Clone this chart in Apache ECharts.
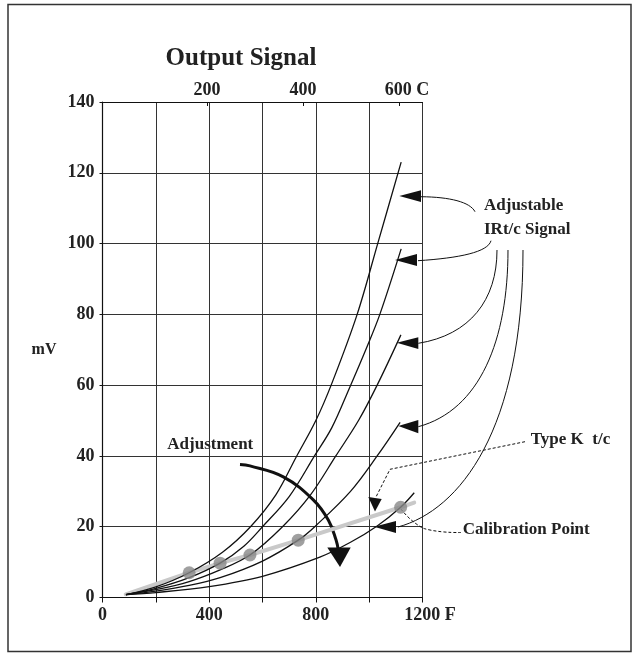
<!DOCTYPE html>
<html><head><meta charset="utf-8">
<script src="https://cdn.jsdelivr.net/npm/echarts@6/dist/echarts.min.js"></script>
<style>html,body{margin:0;padding:0;background:#fff}#c{width:634px;height:654px}</style>
</head><body><div id="c"></div>
<script>
// ---- data (temperature in F, signal in mV) ----
const curve1 = [[88,0.8],[200,3.0],[325,7.0],[450,12.8],[555,20],[650,29],[725,39.5],[800,50],[860,60.5],[955,80],[1032,100],[1120,123]];
const curve2 = [[88,0.8],[200,2.6],[325,5.6],[441,9.7],[530,14.5],[600,20],[700,28.5],[795,40],[860,48],[925,59],[990,70.5],[1040,80],[1120,98.5]];
const curve3 = [[88,0.8],[200,2.2],[325,4.5],[441,7.8],[553,12.0],[675,20],[780,29],[875,40],[960,50],[1030,60],[1119,74.2]];
const curve4 = [[88,0.8],[200,1.8],[325,3.4],[441,5.6],[600,10.3],[734,16.2],[800,20.3],[930,30],[1030,40],[1116,49.5]];
const curve5 = [[88,0.8],[200,1.4],[400,3.1],[600,6.0],[815,11.4],[930,15.6],[1030,20.2],[1118,25.5],[1169,29.6]];
const typeK = [[87,0.9],[325,7.0],[441,9.7],[553,12.0],[734,16.2],[1118,25.5],[1169,26.8]];
const calPoints = [[325,7.0],[441,9.7],[553,12.0],[734,16.2],[1118,25.5]];
const xLabelValuesF = [0,400,800,1200];
const topLabelValuesC = [200,400,600];
const titleText = 'Output Signal';

// ---- annotation geometry (data coords: F, mV) ----
const adjArrowShaft = [[515.6,37.6],[553,37.2],[678,34.1],[790.5,27.6],[846.8,21.9],[875.6,16.3],[884,13.5]];
const adjArrowHead = [[843,14.1],[930.8,14.1],[890.6,8.6]];
const leaders = [
  [[1194.4,113.24],[1303.1,113.16],[1378.1,111.74],[1396.9,109.0]],
  [[1183.1,95.16],[1340.6,95.92],[1445.6,97.62],[1456.9,100.81]],
  [[1184.25,71.82],[1378.1,74.17],[1479.4,84.06],[1479.4,98.18]],
  [[1184.25,48.26],[1415.6,52.98],[1520.6,72.75],[1520.6,98.18]],
  [[1108.1,19.92],[1340.6,24.72],[1576.9,47.33],[1576.9,98.18]]
];
const leaderHeads = [
  [[1113,113.44],[1194.4,115.1],[1194.4,111.75]],
  [[1096.9,95.36],[1179.4,97.05],[1179.4,93.66]],
  [[1103.3,71.99],[1184.25,73.52],[1184.25,70.21]],
  [[1109.25,48.46],[1184.25,50.15],[1184.25,46.39]],
  [[1018.1,20.0],[1100.6,21.61],[1100.6,18.22]]
];
const typeKLeader = [[1584.4,44.02],[1078.1,36.22],[1025.6,28.4]];
const typeKHead = [[1021.9,24.3],[996.75,28.4],[1047,27.83]];
const calLeader = [[1119.4,25.0],[1171.9,21.05],[1228.1,19.07],[1344.4,18.37]];
const labels = [
  {text:'Adjustable', at:[1430.6,110.6]},
  {text:'IRt/c Signal', at:[1430.6,103.9]},
  {text:'Type K  t/c', at:[1605.75,44.5]},
  {text:'Calibration Point', at:[1350.75,19.07]},
  {text:'Adjustment', at:[243,43.09]}
];

const FONT = "'Liberation Serif','Times New Roman',serif";

const blackLine = (name, data) => ({
  name, type:'line', data, showSymbol:false, smooth:0.35,
  lineStyle:{color:'#111', width:1.3}, z:3, silent:true
});

const option = {
  animation:false,
  backgroundColor:'#fff',
  grid:{left:102.5, right:211.5, top:102, bottom:56.5, containLabel:false},
  xAxis:[{
    type:'value', min:0, max:1200, interval:200, position:'bottom',
    axisLine:{show:true, lineStyle:{color:'#111', width:1.2}},
    axisTick:{show:true, length:5, lineStyle:{color:'#111'}},
    axisLabel:{margin:9, fontFamily:FONT, fontWeight:'bold', fontSize:18, color:'#222',
      formatter:v => xLabelValuesF.indexOf(v) < 0 ? '' : (v===1200 ? '{f|1200 F}' : String(v)),
      rich:{f:{fontFamily:FONT, fontWeight:'bold', fontSize:18, color:'#222', padding:[0,0,0,15]}}},
    splitLine:{show:true, lineStyle:{color:'#333', width:1}}
  },{
    type:'value', position:'top', min:(0-32)/1.8, max:(1200-32)/1.8,
    axisLine:{show:true, lineStyle:{color:'#111', width:1.2}},
    axisTick:{show:true, inside:true, length:4, customValues:topLabelValuesC, lineStyle:{color:'#111'}},
    axisLabel:{show:true, margin:3, customValues:topLabelValuesC, fontFamily:FONT, fontWeight:'bold', fontSize:18, color:'#222',
      formatter:v => v===600 ? '{f|600 C}' : String(v),
      rich:{f:{fontFamily:FONT, fontWeight:'bold', fontSize:18, color:'#222', padding:[0,0,0,16]}}},
    splitLine:{show:false}
  }],
  yAxis:{
    type:'value', min:0, max:140, interval:20,
    name:'mV', nameLocation:'middle', nameRotate:0, nameGap:46,
    nameTextStyle:{fontFamily:FONT, fontWeight:'bold', fontSize:16, color:'#222'},
    axisLine:{show:true, lineStyle:{color:'#111', width:1.2}},
    axisTick:{show:true, length:3, lineStyle:{color:'#111'}},
    axisLabel:{margin:8, fontFamily:FONT, fontWeight:'bold', fontSize:18, color:'#222'},
    splitLine:{show:true, lineStyle:{color:'#333', width:1}}
  },
  series:[
    {name:'Type K t/c', type:'line', data:typeK, showSymbol:false, smooth:false,
     lineStyle:{color:'#c9c9c9', width:4, cap:'round'}, z:2, silent:true},
    blackLine('IR1', curve1),
    blackLine('IR2', curve2),
    blackLine('IR3', curve3),
    blackLine('IR4', curve4),
    blackLine('IR5', curve5),
    {name:'Calibration', type:'scatter', data:calPoints, symbolSize:13,
     itemStyle:{color:'#888888'}, z:5, silent:true}
  ]
};

const chart = echarts.init(document.getElementById('c'), null, {renderer:'canvas'});
chart.setOption(option);

const P = p => chart.convertToPixel({seriesIndex:0}, p);
const g = [];
g.push({type:'rect', shape:{x:8, y:4.5, width:623, height:647}, style:{fill:'none', stroke:'#333', lineWidth:1.5}, silent:true});
g.push({type:'text', x:241, y:59, style:{text:titleText, font:"bold 25px " + FONT, fill:'#222', textAlign:'center', textVerticalAlign:'middle'}, silent:true});
g.push({type:'polyline', shape:{points:adjArrowShaft.map(P), smooth:0.4}, style:{stroke:'#111', lineWidth:3, fill:'none'}, silent:true});
g.push({type:'polygon', shape:{points:adjArrowHead.map(P)}, style:{fill:'#111'}, silent:true});
leaders.forEach(L => {
  const [a,b,c,d] = L.map(P);
  g.push({type:'bezierCurve', shape:{x1:a[0], y1:a[1], cpx1:b[0], cpy1:b[1], cpx2:c[0], cpy2:c[1], x2:d[0], y2:d[1]},
    style:{stroke:'#111', lineWidth:1, fill:'none'}, silent:true});
});
leaderHeads.forEach(H => g.push({type:'polygon', shape:{points:H.map(P)}, style:{fill:'#111'}, silent:true}));
g.push({type:'polyline', shape:{points:typeKLeader.map(P)}, style:{stroke:'#111', lineWidth:1, lineDash:[3,2], fill:'none'}, silent:true});
g.push({type:'polygon', shape:{points:typeKHead.map(P)}, style:{fill:'#111'}, silent:true});
g.push({type:'polyline', shape:{points:calLeader.map(P), smooth:0.5}, style:{stroke:'#111', lineWidth:1, lineDash:[3,2], fill:'none'}, silent:true});
labels.forEach(l => {
  const p = P(l.at);
  g.push({type:'text', x:p[0], y:p[1], style:{text:l.text, font:"bold 17px " + FONT, fill:'#222', textAlign:'left', textVerticalAlign:'middle'}, silent:true});
});
chart.setOption({graphic:{elements:g}});
</script>
</body></html>
